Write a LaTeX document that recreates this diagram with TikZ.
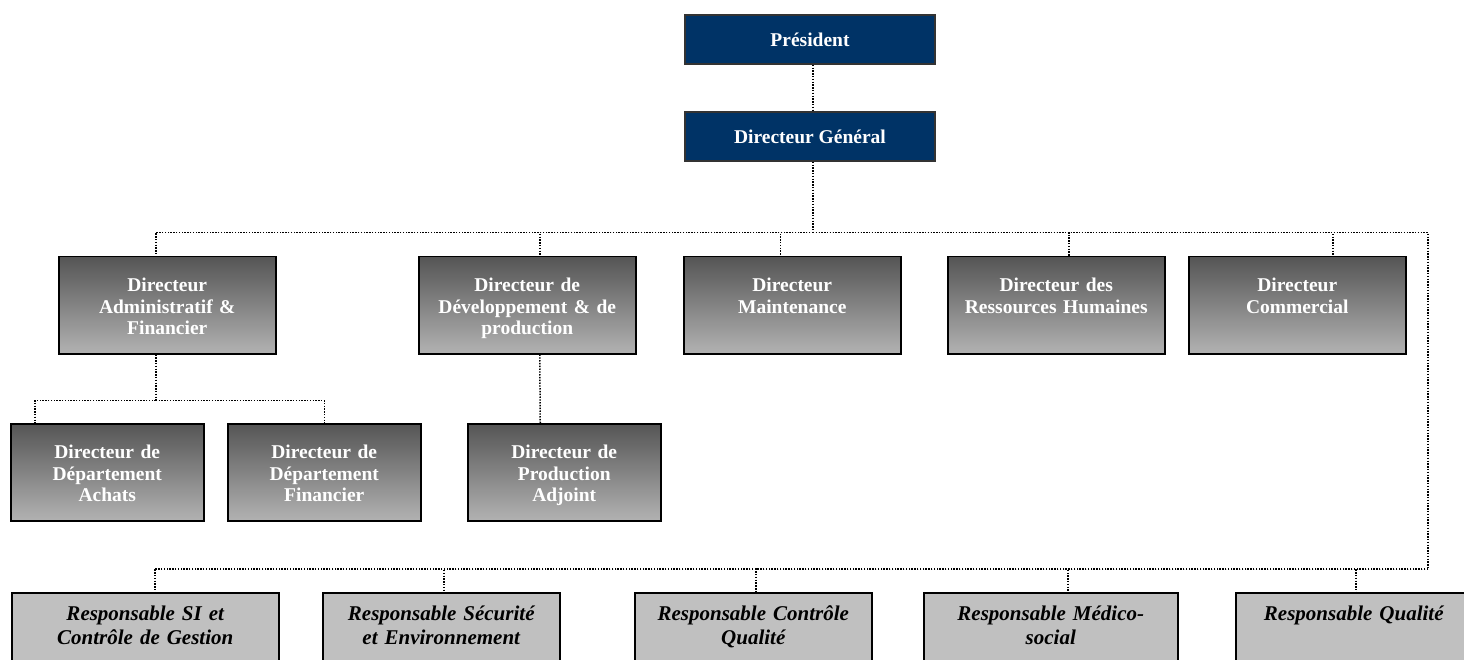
\documentclass[tikz,border=0pt]{standalone}
\usepackage{fontspec}
\setmainfont{Liberation Serif}
\usetikzlibrary{positioning}
\definecolor{navy}{HTML}{003366}
\definecolor{graytop}{HTML}{555555}
\definecolor{graybot}{HTML}{B2B2B2}
\definecolor{respgray}{HTML}{C0C0C0}
\tikzset{
    x=1pt, y=-1pt, % One unit per pixel, going down
    headbox/.style={ % Président and Directeur Général
        draw=black!80, line width=1.5pt,
        fill=navy, text=white,
        minimum width=250pt, minimum height=49pt, inner sep=0pt,
        font=\fontsize{19.5}{22}\selectfont\bfseries
    },
    dirbox/.style={ % Directors, shaded boxes with text at the top
        draw=black, line width=1.5pt,
        top color=graytop, bottom color=graybot, text=white,
        text width=#1, align=center, inner sep=0pt,
        text height=35pt, text depth=62pt,
        font=\fontsize{19.5}{21.5}\selectfont\bfseries
    },
    dirbox/.default=217pt,
    respbox/.style={ % Bottom row, cut by the page edge
        draw=black, line width=1.5pt,
        fill=respgray, text=black,
        text width=#1, align=center, inner sep=0pt,
        text height=28pt, text depth=80pt,
        font=\fontsize{21}{24}\selectfont\bfseries\itshape
    },
    link/.style={ % Dotted connectors
        line width=1.5pt, dash pattern=on 1.4pt off 1.4pt
    },
}

\begin{document}
\begin{tikzpicture}
    \useasboundingbox (0,0) rectangle (1464,660);

    \node[headbox]                            (pres)   at (810,39.5) {Président};
    \node[headbox, below=46.5pt of pres]      (dg)                   {Directeur Général};

    \node[dirbox, anchor=north west]          (daf)    at (58,256)   {Directeur\\ Administratif \&\\ Financier};
    \node[dirbox, right=141.5pt of daf]       (ddp)                  {Directeur de\\ Développement \& de\\ production};
    \node[dirbox, right=46.5pt of ddp]        (maint)                {Directeur\\ Maintenance};
    \node[dirbox, right=45.5pt of maint]      (rh)                   {Directeur des\\ Ressources Humaines};
    \node[dirbox, right=22.5pt of rh]         (comm)                 {Directeur\\ Commercial};

    \node[dirbox=193pt, anchor=north west]    (achat)  at (10,423)   {Directeur de\\ Département\\ Achats};
    \node[dirbox=193pt, right=22.5pt of achat](fin)                  {Directeur de\\ Département\\ Financier};
    \node[dirbox=193pt, right=45.5pt of fin]  (padj)                 {Directeur de\\ Production\\ Adjoint};

    \node[respbox=267pt, anchor=north west]   (si)     at (11,592)   {Responsable SI et\\ Contrôle de Gestion};
    \node[respbox=237pt, right=42.5pt of si]  (secu)                 {Responsable Sécurité\\ et Environnement};
    \node[respbox=237pt, right=73.5pt of secu](cq)                   {Responsable Contrôle\\ Qualité};
    \node[respbox=254pt, right=50.5pt of cq]  (medico)               {Responsable Médico-\\ social};
    \node[respbox=236pt, right=56.5pt of medico](qual)               {Responsable Qualité};

    % bus lines
    \path (dg.south) ++(3,71)  coordinate (bus);
    \path (bus)      ++(615,0) coordinate (busr);
    \path (busr)     ++(0,336) coordinate (busb);
    \path ([xshift=-11.5pt]daf.south) ++(0,46) coordinate (busd);

    \draw[link] ([xshift=3pt]pres.south) -- ([xshift=3pt]dg.north);
    \draw[link] (dg.south -| bus) -- (bus);
    \foreach \n/\dx in {daf/-11.5, ddp/12.5, maint/-12, rh/12.5, comm/35.5}
        \draw[link] (bus) -| ([xshift=\dx pt]\n.north);
    \draw[link] (bus) -- (busr) -- (busb);
    \foreach \n/\dx in {si/9.5, secu/2.5, cq/2.5, medico/17, qual/2}
        \draw[link] (busb) -| ([xshift=\dx pt]\n.north);

    \draw[link] ([xshift=-11.5pt]daf.south) -- (busd);
    \draw[link] (busd) -| ([xshift=-72.5pt]achat.north);
    \draw[link] (busd) -| (fin.north);
    \draw[link] ([xshift=12.5pt]ddp.south) -- ([xshift=-24pt]padj.north);
\end{tikzpicture}
\end{document}
